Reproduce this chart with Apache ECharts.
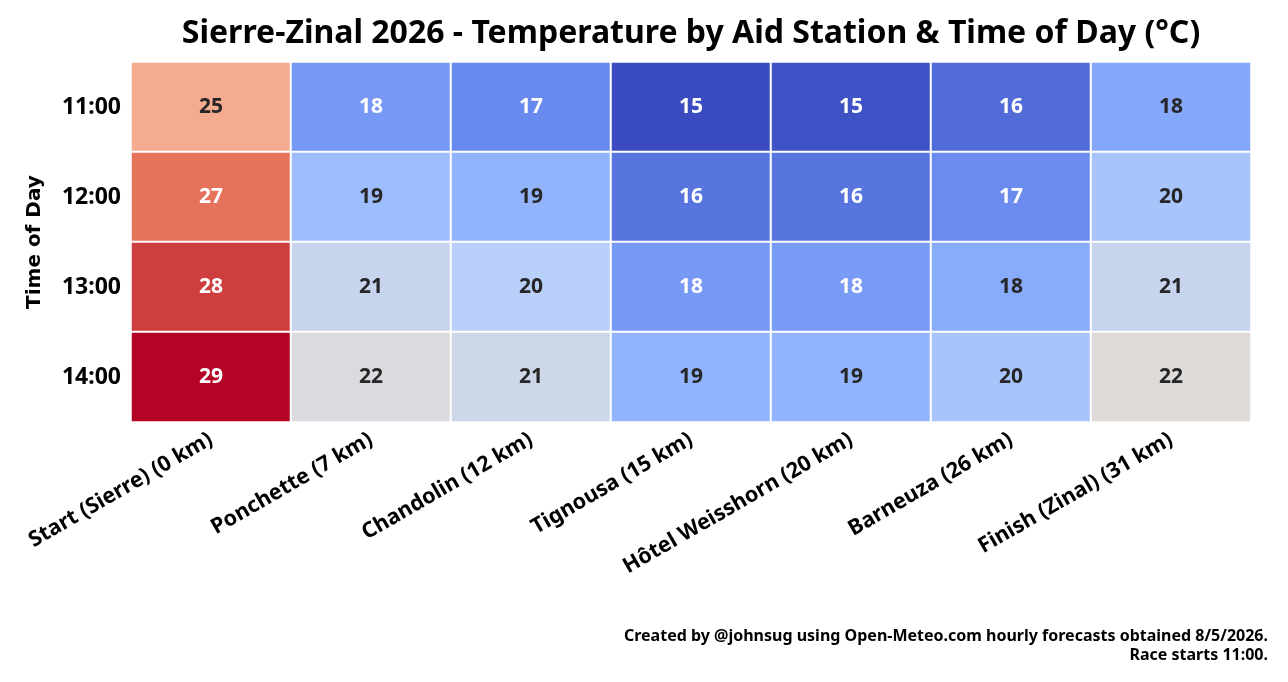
<!DOCTYPE html>
<html>
<head>
<meta charset="UTF-8">
<title>Sierre-Zinal 2026 temperature</title>
<script src="https://cdn.jsdelivr.net/npm/echarts@6/dist/echarts.min.js"></script>
<style>
  html, body { margin: 0; padding: 0; background: #fff; }
  #chart { width: 1288px; height: 682px; }
</style>
</head>
<body>
<div id="chart"></div>
<script>
// aid stations along the course
var stations = ['Start (Sierre) (0 km)', 'Ponchette (7 km)', 'Chandolin (12 km)', 'Tignousa (15 km)',
                'Hôtel Weisshorn (20 km)', 'Barneuza (26 km)', 'Finish (Zinal) (31 km)'];
var hours = ['11:00', '12:00', '13:00', '14:00'];

// temperature (°C) per hour, one value per station
var temp1100 = [24.8, 17.6, 17.0, 15.0, 15.2, 16.0, 18.2];
var temp1200 = [26.7, 19.2, 18.7, 16.3, 16.3, 17.1, 19.6];
var temp1300 = [27.9, 20.9, 20.2, 17.6, 17.7, 18.3, 20.9];
var temp1400 = [29.0, 21.8, 21.3, 18.7, 18.7, 19.6, 22.1];
var tempRows = [temp1100, temp1200, temp1300, temp1400];

// matplotlib "coolwarm"
var coolwarm = ['#3b4cc0', '#6282ea', '#8db0fe', '#b8d0f9', '#dddcdc',
                '#f4c4ad', '#f49a7b', '#de604d', '#b40426'];

var font = '"Noto Sans", "DejaVu Sans", sans-serif';
var font2 = '"DejaVu Sans", sans-serif';

var cells = [];
tempRows.forEach(function (row, h) {
  row.forEach(function (v, s) {
    var light = v < 17.9 || v > 25.5;
    cells.push({
      value: [s, h, v],
      label: { color: light ? '#ffffff' : '#262626' }
    });
  });
});

var myChart = echarts.init(document.getElementById('chart'));
var option = {
  backgroundColor: '#fff',
  animation: false,
  title: [{
    text: 'Sierre-Zinal 2026 - Temperature by Aid Station & Time of Day (°C)',
    left: 691, top: 18, padding: 0, textAlign: 'center',
    textStyle: { fontFamily: font, fontWeight: 'bold', fontSize: 32, color: '#000' }
  }, {
    text: 'Created by @johnsug using Open-Meteo.com hourly forecasts obtained 8/5/2026.\nRace starts 11:00.',
    left: 1268, top: 627, padding: 0, textAlign: 'right',
    textStyle: { fontFamily: font, fontWeight: 'bold', fontSize: 16, color: '#000', lineHeight: 19, align: 'right' }
  }],
  grid: { left: 131, right: 37, top: 62, bottom: 260, containLabel: false },
  xAxis: {
    type: 'category',
    data: stations,
    axisLine: { show: false },
    axisTick: { show: false },
    splitArea: { show: false },
    axisLabel: {
      rotate: 30, interval: 0, margin: 16,
      fontFamily: font, fontWeight: 'bold', fontSize: 21.5, color: '#000'
    }
  },
  yAxis: {
    type: 'category',
    data: hours,
    inverse: true,
    name: 'Time of Day',
    nameLocation: 'middle',
    nameGap: 86,
    nameTextStyle: { fontFamily: font2, fontWeight: 'bold', fontSize: 20, color: '#000' },
    axisLine: { show: false },
    axisTick: { show: false },
    axisLabel: { margin: 10, fontFamily: font, fontWeight: 'bold', fontSize: 23, color: '#000' }
  },
  visualMap: {
    show: false,
    type: 'continuous',
    min: 15, max: 29,
    dimension: 2,
    inRange: { color: coolwarm }
  },
  series: [{
    type: 'heatmap',
    data: cells,
    itemStyle: { borderColor: '#fff', borderWidth: 2 },
    label: {
      show: true,
      fontFamily: font, fontWeight: 'bold', fontSize: 21,
      formatter: function (p) { return Math.round(p.value[2]); }
    },
    emphasis: { disabled: true }
  }]
};
myChart.setOption(option);
</script>
</body>
</html>
